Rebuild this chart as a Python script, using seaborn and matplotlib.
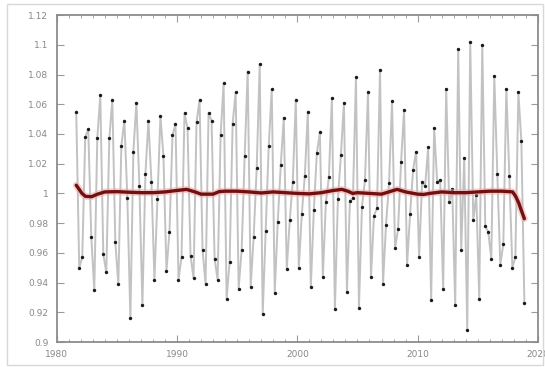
import numpy as np
import pandas as pd
import matplotlib
matplotlib.use('Agg')
import matplotlib.pyplot as plt
import seaborn as sns
from matplotlib.ticker import FuncFormatter, MultipleLocator
from matplotlib.patches import Rectangle

# Quarterly seasonal factors, 150 quarters
start_year = 1981.625
values = [
    1.055, 0.950, 0.957, 1.038, 1.043, 0.971, 0.935, 1.037, 1.066, 0.959,
    0.947, 1.037, 1.063, 0.967, 0.939, 1.032, 1.049, 0.997, 0.916, 1.028,
    1.061, 1.005, 0.925, 1.013, 1.049, 1.008, 0.942, 0.996, 1.052, 1.025,
    0.948, 0.974, 1.039, 1.047, 0.942, 0.957, 1.054, 1.044, 0.958, 0.943,
    1.048, 1.063, 0.962, 0.939, 1.054, 1.049, 0.956, 0.942, 1.039, 1.074,
    0.929, 0.954, 1.047, 1.068, 0.936, 0.962, 1.025, 1.082, 0.937, 0.971,
    1.017, 1.087, 0.919, 0.975, 1.032, 1.070, 0.933, 0.981, 1.019, 1.051,
    0.949, 0.982, 1.008, 1.063, 0.950, 0.986, 1.012, 1.055, 0.937, 0.989,
    1.027, 1.041, 0.944, 0.994, 1.011, 1.064, 0.922, 0.996, 1.026, 1.061,
    0.934, 0.995, 0.997, 1.078, 0.923, 0.991, 1.009, 1.068, 0.944, 0.985,
    0.990, 1.083, 0.939, 0.979, 1.007, 1.062, 0.963, 0.976, 1.021, 1.056,
    0.952, 0.986, 1.016, 1.028, 0.957, 1.008, 1.005, 1.031, 0.928, 1.044,
    1.008, 1.009, 0.936, 1.070, 0.994, 1.003, 0.925, 1.097, 0.962, 1.024,
    0.908, 1.102, 0.982, 0.999, 0.929, 1.100, 0.978, 0.974, 0.956, 1.079,
    1.013, 0.952, 0.966, 1.070, 1.012, 0.950, 0.957, 1.068, 1.035, 0.926,
]
quarters = start_year + 0.25 * np.arange(len(values))

# Smoothed trend, read at knots
trend_years = [1981.625, 1981.85, 1982.1, 1982.4, 1982.9, 1983.4, 1984.0, 1985.0,
               1986.0, 1987.0, 1988.0, 1989.0, 1990.0, 1990.8, 1991.5, 1992.0,
               1993.0, 1993.5, 1994.0, 1995.0, 1996.0, 1997.0, 1998.0, 1999.0,
               2000.0, 2001.0, 2002.0, 2003.0, 2003.7, 2004.2, 2004.6, 2005.0,
               2006.0, 2007.0, 2008.0, 2008.3, 2009.0, 2010.0, 2010.5, 2011.0,
               2012.0, 2013.0, 2014.0, 2015.0, 2016.0, 2017.0, 2017.6, 2017.9,
               2018.15, 2018.4, 2018.6, 2018.875]
trend_vals = [1.0055, 1.003, 1.000, 0.998, 0.9978, 0.9995, 1.001, 1.0012,
              1.0008, 1.0005, 1.0005, 1.001, 1.002, 1.0027, 1.001, 0.9995,
              0.9995, 1.0012, 1.0015, 1.0015, 1.001, 1.0003, 1.001, 1.0005,
              1.0, 0.9997, 1.0005, 1.002, 1.0027, 1.0015, 1.0, 1.0005,
              1.0, 0.9995, 1.002, 1.0027, 1.001, 0.9995, 0.9993, 1.0,
              1.001, 1.0005, 1.0005, 1.001, 1.0015, 1.0015, 1.0012, 1.001,
              0.998, 0.9937, 0.989, 0.983]

df = pd.DataFrame({'Year': quarters, 'Factor': values})
df_trend = pd.DataFrame({'Year': trend_years, 'Trend': trend_vals})

sns.set_style('white')

fig = plt.figure(figsize=(5.45, 3.67), dpi=100)
ax = fig.add_axes([0.104, 0.068, 0.883, 0.891])

# Outer light frame
fig.add_artist(Rectangle((0.013, 0.006), 0.983, 0.984, transform=fig.transFigure,
                         fill=False, edgecolor='#d8d8d8', linewidth=1.0))

sns.lineplot(data=df, x='Year', y='Factor', color='#c2c2c2', linewidth=1.4, ax=ax,
             estimator=None, sort=False, zorder=2)
sns.scatterplot(data=df, x='Year', y='Factor', color='#1a1a1a', s=6, edgecolor=None,
                linewidth=0, ax=ax, zorder=3)

# Trend with pale halo
sns.lineplot(data=df_trend, x='Year', y='Trend', color='#f2a8a8', linewidth=5.0,
             alpha=0.55, ax=ax, estimator=None, zorder=4)
sns.lineplot(data=df_trend, x='Year', y='Trend', color='#701010', linewidth=2.4,
             ax=ax, estimator=None, zorder=5)

ax.set_xlim(1980, 2020)
ax.set_ylim(0.9, 1.12)
ax.set_xticks([1980, 1990, 2000, 2010, 2020])
ax.xaxis.set_minor_locator(MultipleLocator(1))
ax.set_yticks(np.arange(0.90, 1.121, 0.02))
ax.yaxis.set_major_formatter(FuncFormatter(lambda v, p: f'{v:.2f}'.rstrip('0').rstrip('.')))
ax.set_xlabel('')
ax.set_ylabel('')

for s in ax.spines.values():
    s.set_color('#8c8c8c')
    s.set_linewidth(1.3)

ax.tick_params(axis='both', which='major', direction='in', length=5, width=0.8,
               color='#9a9a9a', labelsize=6.5, labelcolor='#888888',
               top=True, right=True, bottom=True, left=True, pad=6)
ax.tick_params(axis='x', which='minor', direction='in', length=2.5, width=0.6,
               color='#9a9a9a', top=True, bottom=True)

plt.savefig('out.png', dpi=100)
